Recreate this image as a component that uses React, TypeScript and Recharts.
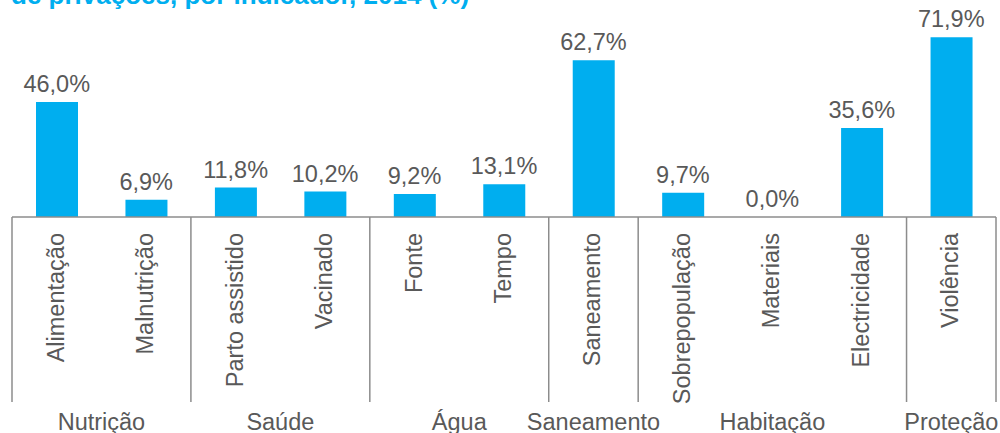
import { ComposedChart, Bar, Line, XAxis, YAxis, LabelList } from "recharts";

const categories = [
  "Alimentação",
  "Malnutrição",
  "Parto assistido",
  "Vacinado",
  "Fonte",
  "Tempo",
  "Saneamento",
  "Sobrepopulação",
  "Materiais",
  "Electricidade",
  "Violência",
];
const values = [46.0, 6.9, 11.8, 10.2, 9.2, 13.1, 62.7, 9.7, 0.0, 35.6, 71.9];
const groups = [
  "Nutrição",
  "Nutrição",
  "Saúde",
  "Saúde",
  "Água",
  "Água",
  "Saneamento",
  "Habitação",
  "Habitação",
  "Habitação",
  "Proteção",
];

const data = categories.map((name, i) => ({ name, value: values[i], group: groups[i] }));

const BLUE = "#00AEEF";
const TEXT = "#595959";
const LINE = "#8c8c8c";
const FONT = "'Liberation Sans', Arial, sans-serif";

function formatPct(v: number) {
  return v.toFixed(1).replace(".", ",") + "%";
}

// Custom tick: rotated category label, plus group separators and group names
function CategoryTick(props: any) {
  const { x, y, payload, index } = props;
  const half = payload?.offset ?? 44.7;
  const group = groups[index];
  const isFirst = index === 0 || groups[index - 1] !== group;
  const isLast = index === categories.length - 1;
  let size = 0;
  while (groups[index + size] === group) size++;
  const left = x - half;
  const groupCenter = left + size * half;
  return (
    <g>
      <text
        x={x + 7}
        y={y + 16}
        transform={`rotate(-90, ${x + 7}, ${y + 16})`}
        textAnchor="end"
        fill={TEXT}
        fontSize={23.5}
        fontFamily={FONT}
      >
        {payload.value}
      </text>
      {isFirst && (
        <>
          <line x1={left} y1={y} x2={left} y2={y + 185} stroke={LINE} strokeWidth={1.5} />
          <text x={groupCenter} y={y + 213} textAnchor="middle" fill={TEXT} fontSize={23.5} fontFamily={FONT}>
            {group}
          </text>
        </>
      )}
      {isLast && <line x1={x + half} y1={y} x2={x + half} y2={y + 185} stroke={LINE} strokeWidth={1.5} />}
    </g>
  );
}

export default function App() {
  return (
    <div
      style={{
        position: "absolute",
        top: 0,
        left: 0,
        width: 1000,
        height: 433,
        overflow: "hidden",
        background: "#fff",
        fontFamily: FONT,
      }}
    >
      <div
        style={{
          position: "absolute",
          top: -18,
          left: 11,
          fontSize: 26,
          lineHeight: "26px",
          fontWeight: "bold",
          color: BLUE,
          whiteSpace: "nowrap",
        }}
      >
        de privações, por indicador, 2014 (%)
      </div>
      <ComposedChart
        width={1000}
        height={433}
        data={data}
        margin={{ top: 17, right: 4, left: 12, bottom: 0 }}
        style={{ fontFamily: FONT }}
      >
        <XAxis
          dataKey="name"
          interval={0}
          height={216}
          tickSize={0}
          tickMargin={0}
          tickLine={false}
          axisLine={{ stroke: LINE, strokeWidth: 1.5 }}
          tick={<CategoryTick />}
        />
        <YAxis hide domain={[0, 80]} />
        <Bar dataKey="value" fill={BLUE} barSize={42} isAnimationActive={false} />
        {/* invisible line carries the value labels so the 0,0% label is kept */}
        <Line dataKey="value" stroke="none" dot={false} activeDot={false} isAnimationActive={false}>
          <LabelList
            dataKey="value"
            position="top"
            offset={10}
            fill={TEXT}
            fontSize={23.5}
            fontFamily={FONT}
            formatter={(v: any) => formatPct(Number(v))}
          />
        </Line>
      </ComposedChart>
    </div>
  );
}
